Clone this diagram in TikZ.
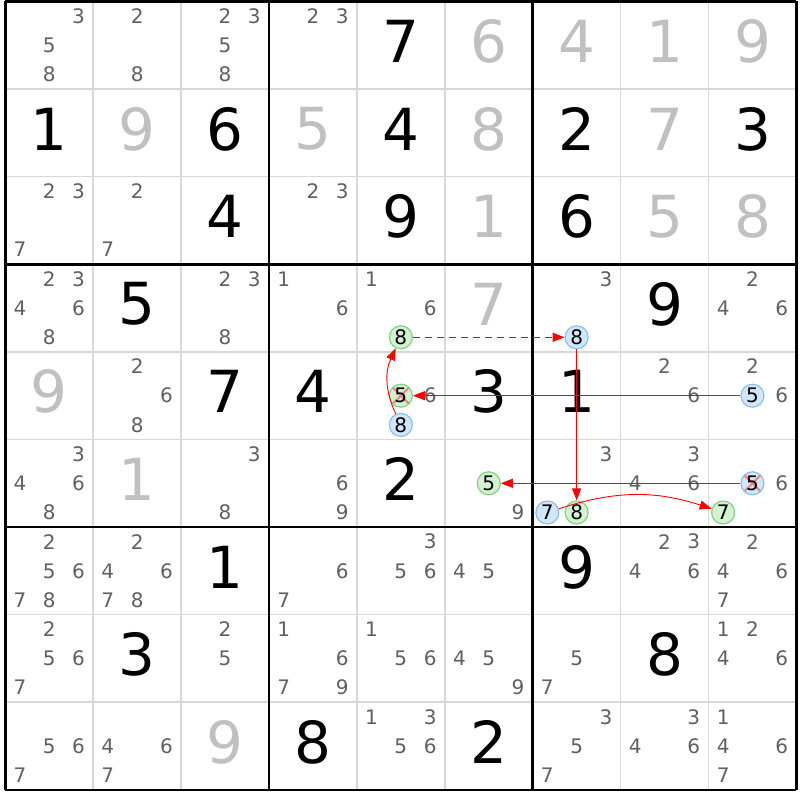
\documentclass[tikz,border=0pt]{standalone}
\usepackage{fontspec}
\setmainfont{DejaVu Sans}
\usetikzlibrary{arrows.meta}
\definecolor{candgray}{RGB}{96,96,96}
\definecolor{solvedgray}{RGB}{192,192,192}
\definecolor{gridgray}{RGB}{216,216,216}
\definecolor{ongreen}{RGB}{210,242,210}
\definecolor{ongreenline}{RGB}{130,210,130}
\definecolor{offblue}{RGB}{210,230,250}
\definecolor{offblueline}{RGB}{140,190,240}
\definecolor{strikered}{RGB}{240,130,130}
\tikzset{
  given/.style={font=\fontsize{58}{58}\selectfont, yshift=4pt},
  solved/.style={given, text=solvedgray},
  cand/.style={font=\fontsize{20}{20}\selectfont, text=candgray, inner sep=0pt},
  candon/.style={cand, text=black, circle, minimum size=23pt, line width=1.2pt,
    draw=ongreenline, fill=ongreen},
  candoff/.style={candon, draw=offblueline, fill=offblue},
  struck/.style={path picture={
    \draw[strikered, line width=2pt]
      ([shift={(-8pt,8pt)}]path picture bounding box.center) -- ([shift={(8pt,-8pt)}]path picture bounding box.center)
      ([shift={(-8pt,-8pt)}]path picture bounding box.center) -- ([shift={(8pt,8pt)}]path picture bounding box.center);}},
  candonx/.style={candon, struck},
  candoffx/.style={candoff, struck},
  linkarrow/.style={red, line width=0.9pt, -{Triangle[length=12pt,width=9pt]}},
  weaklink/.style={linkarrow, line width=1.3pt, dash pattern=on 7pt off 5pt},
}

\begin{document}
\begin{tikzpicture}[x=87.9pt, y=-87.6pt]
  \useasboundingbox[fill=white] (-0.0603,-0.0171) rectangle (9.0410,9.1153);
  % grid
  \foreach \i in {1,2,4,5,7,8}
    \draw[gridgray, line width=1.6pt] (\i,0) -- (\i,9) (0,\i) -- (9,\i);
  \foreach \i in {0,3,6,9}
    \draw[black, line width=2.6pt] (\i,0) -- (\i,9) (0,\i) -- (9,\i);

  % givens and solved cells
  \foreach \r/\c/\v in {0/4/7, 1/0/1, 1/2/6, 1/4/4, 1/6/2, 1/8/3, 2/2/4, 2/4/9, 2/6/6,
      3/1/5, 3/7/9, 4/2/7, 4/3/4, 4/5/3, 4/6/1, 5/4/2, 6/2/1, 6/6/9, 7/1/3, 7/7/8,
      8/3/8, 8/5/2}
    \node[given] (g\r\c) at (\c+.5,\r+.5) {\v};
  \foreach \r/\c/\v in {0/5/6, 0/6/4, 0/7/1, 0/8/9, 1/1/9, 1/3/5, 1/5/8, 1/7/7,
      2/5/1, 2/7/5, 2/8/8, 3/5/7, 4/0/9, 5/1/1, 8/2/9}
    \node[solved] (g\r\c) at (\c+.5,\r+.5) {\v};

  % candidates
  \foreach \r/\c/\ds in {0/0/{3,5,8}, 0/1/{2,8}, 0/2/{2,3,5,8}, 0/3/{2,3},
      2/0/{2,3,7}, 2/1/{2,7}, 2/3/{2,3},
      3/0/{2,3,4,6,8}, 3/2/{2,3,8}, 3/3/{1,6}, 3/4/{1,6}, 3/6/{3}, 3/8/{2,4,6},
      4/1/{2,6,8}, 4/4/{6}, 4/7/{2,6}, 4/8/{2,6},
      5/0/{3,4,6,8}, 5/2/{3,8}, 5/3/{6,9}, 5/5/{9}, 5/6/{3}, 5/7/{3,4,6}, 5/8/{6},
      6/0/{2,5,6,7,8}, 6/1/{2,4,6,7,8}, 6/3/{6,7}, 6/4/{3,5,6}, 6/5/{4,5},
      6/7/{2,3,4,6}, 6/8/{2,4,6,7},
      7/0/{2,5,6,7}, 7/2/{2,5}, 7/3/{1,6,7,9}, 7/4/{1,5,6}, 7/5/{4,5,9},
      7/6/{5,7}, 7/8/{1,2,4,6},
      8/0/{5,6,7}, 8/1/{4,6,7}, 8/4/{1,3,5,6}, 8/6/{3,5,7}, 8/7/{3,4,6}, 8/8/{1,4,6,7}}
    \foreach \d in \ds
      \node[cand] (c\r\c\d) at ({\c+(mod(\d-1,3)+.5)/3},{\r+(int((\d-1)/3)+.5)/3}) {\d};

  % chain
  \foreach \r/\c/\d/\sty in {3/4/8/candon, 3/6/8/candoff, 4/4/5/candonx, 4/4/8/candoff,
      4/8/5/candoff, 5/5/5/candon, 5/6/7/candoff, 5/6/8/candon, 5/8/5/candoffx, 5/8/7/candon}
    \node[\sty] (c\r\c\d) at ({\c+(mod(\d-1,3)+.5)/3},{\r+(int((\d-1)/3)+.5)/3}) {\d};

  \draw[weaklink] (c348) -- (c368);
  \draw[linkarrow] (c368) -- (c568);
  \draw[linkarrow] (c567) to[bend left=18] (c587);
  \draw[linkarrow] (c585) -- (c555);
  \draw[linkarrow] (c485) -- (c445);
  \draw[linkarrow] (c448) to[bend left=25] (c348);
\end{tikzpicture}
\end{document}
